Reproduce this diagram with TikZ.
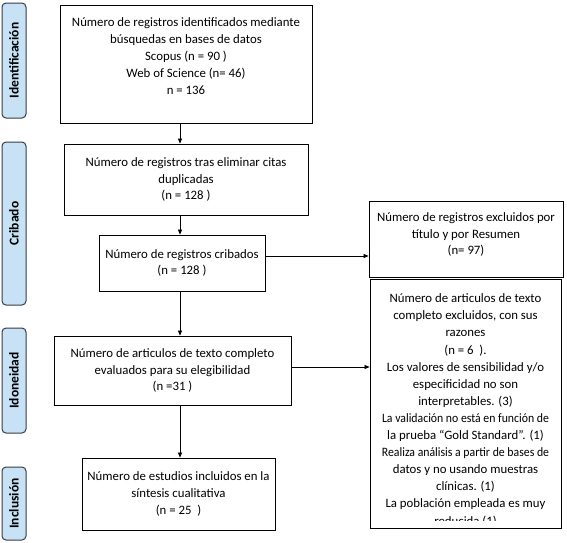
\documentclass[tikz,border=0pt]{standalone}
\usepackage{fontspec}
\setmainfont{Carlito}
\usetikzlibrary{arrows.meta}

\definecolor{fasefill}{RGB}{199,226,245}
\definecolor{fasedraw}{RGB}{55,60,70}

\newcommand{\apretado}[2]{\scalebox{#1}[1]{#2}}

\tikzset{
  caja/.style={draw=black, line width=0.8pt, align=center, inner sep=0pt,
    font=\fontsize{12.8}{16.8}\selectfont},
  texto/.style={align=center, inner sep=0pt, font=\fontsize{12.8}{17.1}\selectfont},
  fase/.style={draw=fasedraw, fill=fasefill, line width=1pt, rounded corners=4pt,
    minimum height=24pt, inner sep=0pt, rotate=90,
    font=\bfseries\fontsize{13.5}{14}\selectfont},
  flecha/.style={-{Triangle[length=5pt,width=4pt]}, line width=0.7pt},
}

\begin{document}
\begin{tikzpicture}[x=1pt,y=-1pt]
\useasboundingbox (0,0) rectangle (567,542);

% --- Fases (columna izquierda) ---
\node[fase, minimum width=115pt] (fident) at (14,60.5) {Identificación};
\node[fase, minimum width=163pt] (fcrib) at (14,223.5) {Cribado};
\node[fase, minimum width=105pt] (fidon) at (14,380.5) {Idoneidad};
\node[fase, minimum width=73pt] (fincl) at (14,503.5) {Inclusión};

% --- Cajas principales ---
\node[caja, minimum width=252pt, minimum height=118pt] (ident) at (186,64)
  {\parbox[c][92pt][t]{250pt}{\centering
   Número de registros identificados mediante\\
   búsquedas en bases de datos\\
   Scopus (n = 90 )\\
   Web of Science (n= 46)\\
   n = 136}};
\node[caja, minimum width=244pt, minimum height=71pt] (dupl) at (186,179.5)
  {Número de registros tras eliminar citas\\ duplicadas\\ (n = 128 )};
\node[caja, minimum width=166pt, minimum height=56pt] (crib) at (182,263)
  {Número de registros cribados\\ (n = 128 )};
\node[caja, minimum width=237pt, minimum height=69pt] (eleg) at (172.5,370.5)
  {Número de articulos de texto completo\\ evaluados para su elegibilidad\\ (n =31 )};
\node[caja, minimum width=193pt, minimum height=72pt] (incl) at (178.5,494)
  {Número de estudios incluidos en la\\ síntesis cualitativa\\ (n = 25\ \ )};

% --- Cajas de excluidos ---
\node[caja, minimum width=194pt, minimum height=76pt] (excl) at (466,239)
  {\parbox[c][53pt][t]{190pt}{\centering
   Número de registros excluidos por\\
   título y por Resumen\\
   (n= 97)}};
\node[caja, minimum width=191pt, minimum height=249pt] (razones) at (465.5,403.5) {};
\begin{scope}
  % texto cortado por abajo
  \clip (razones.north west) rectangle ([yshift=8pt]razones.south east);
  \node[texto, anchor=north] (razontxt) at ([yshift=-15pt]razones.north)
    {Número de articulos de texto\\
     completo excluidos, con sus\\
     razones\\
     (n = 6\ \ ).\\
     Los valores de sensibilidad y/o\\
     especificidad no son\\
     interpretables. (3)\\
     \apretado{0.92}{La validación no está en función de}\\
     la prueba “Gold Standard”. (1)\\
     \apretado{0.92}{Realiza análisis a partir de bases de}\\
     datos y no usando muestras\\
     clínicas. (1)\\
     La población empleada es muy\\
     reducida (1)};
\end{scope}

% --- Flechas ---
\coordinate (ax) at (180,0);
\draw[flecha] (ident.south -| ax) -- (dupl.north -| ax);
\draw[flecha] (dupl.south -| ax) -- (crib.north -| ax);
\draw[flecha] (crib.south -| ax) -- (eleg.north -| ax);
\draw[flecha] (eleg.south -| ax) -- (incl.north -| ax);
\draw[flecha] ([yshift=7pt]crib.east) -- ([yshift=7pt]crib.east -| excl.west);
\draw[flecha] ([yshift=3.5pt]eleg.east) -- ([yshift=3.5pt]eleg.east -| razones.west);

\end{tikzpicture}
\end{document}
